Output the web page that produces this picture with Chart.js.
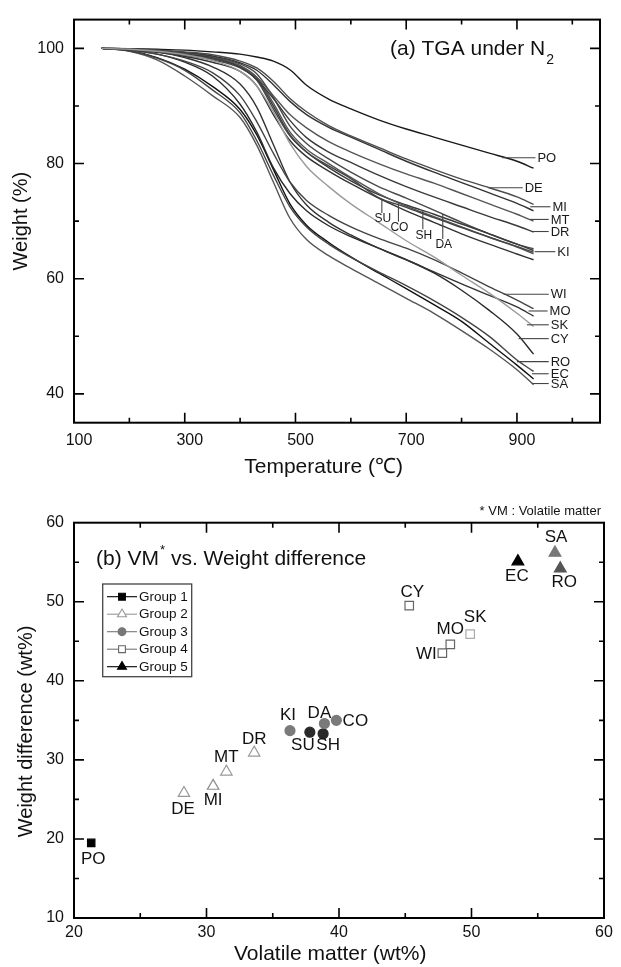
<!DOCTYPE html>
<html>
<head>
<meta charset="utf-8">
<script src="https://cdn.jsdelivr.net/npm/chart.js@4.4.0/dist/chart.umd.min.js"></script>
<style>
  html, body { margin: 0; padding: 0; background: #fff; }
  #wrap { position: relative; width: 621px; height: 967px; }
  #tga { position: absolute; left: 0; top: 0; }
  #vm { position: absolute; left: 0; top: 480px; }
</style>
</head>
<body>
<div id="wrap">
  <canvas id="tga" width="621" height="480"></canvas>
  <canvas id="vm" width="621" height="487"></canvas>
</div>
<script>
// ---- (a) TGA curves: weight (%) read at these temperatures ----
const tempC = [150, 200, 250, 300, 350, 400, 430, 460, 490, 520, 560, 600, 650, 700, 750, 800, 850, 900, 930];

const wPO = [100, 99.95, 99.85, 99.7, 99.4, 99.0, 98.5, 97.8, 96.3, 93.6, 91.2, 89.5, 87.6, 86.0, 84.6, 83.2, 81.8, 80.4, 79.2];
const wDE = [100, 99.9, 99.7, 99.4, 98.9, 97.8, 96.6, 94.3, 91.3, 89.0, 86.6, 84.8, 82.8, 80.8, 79.0, 77.3, 75.8, 74.2, 72.9];
const wMI = [100, 99.9, 99.7, 99.3, 98.7, 97.5, 96.2, 93.7, 90.8, 88.5, 86.3, 84.6, 82.5, 80.4, 78.5, 76.7, 74.9, 73.1, 71.8];
const wMT = [100, 99.9, 99.6, 99.2, 98.6, 97.0, 95.0, 91.8, 88.5, 86.2, 83.8, 82.0, 80.0, 78.2, 76.6, 74.8, 73.0, 71.2, 70.0];
const wDR = [100, 99.85, 99.5, 99.0, 98.4, 96.8, 94.6, 91.3, 87.5, 84.5, 82.0, 80.2, 78.0, 76.0, 74.2, 72.5, 70.8, 69.2, 68.1];
const wSU = [100, 99.8, 99.4, 98.8, 98.0, 96.6, 94.5, 89.5, 84.8, 82.0, 79.6, 77.4, 74.1, 72.4, 70.6, 68.9, 67.2, 65.6, 64.6];
const wCO = [100, 99.85, 99.5, 99.0, 98.3, 97.0, 95.0, 90.5, 85.5, 82.5, 80.0, 77.6, 74.8, 72.6, 70.8, 69.0, 67.2, 65.5, 64.3];
const wSH = [100, 99.8, 99.5, 98.9, 98.2, 96.8, 94.8, 90.0, 85.0, 82.0, 79.3, 77.0, 74.6, 72.8, 71.2, 69.5, 67.8, 66.0, 64.9];
const wDA = [100, 99.85, 99.6, 99.2, 98.5, 97.3, 95.6, 91.5, 86.5, 83.5, 80.8, 78.5, 76.0, 74.0, 71.9, 69.8, 67.8, 66.0, 65.2];
const wKI = [100, 99.8, 99.3, 98.6, 97.6, 96.0, 93.5, 88.5, 84.0, 81.2, 78.7, 76.5, 74.0, 71.8, 69.8, 67.8, 66.0, 64.3, 63.3];
const wWI = [100, 99.7, 99.0, 97.8, 95.8, 91.8, 87.3, 81.8, 76.8, 73.6, 71.0, 69.0, 67.0, 65.3, 63.3, 61.0, 58.6, 56.3, 54.8];
const wMO = [100, 99.8, 99.4, 98.4, 96.8, 93.8, 89.8, 83.3, 76.8, 72.8, 69.8, 67.6, 65.3, 63.3, 61.2, 59.1, 57.1, 55.1, 53.5];
const wSK = [100, 99.85, 99.5, 98.9, 97.9, 96.0, 93.5, 89.0, 83.5, 79.5, 76.0, 73.0, 69.8, 66.6, 63.8, 60.6, 57.5, 54.0, 51.7];
const wCY = [100, 99.7, 99.0, 97.6, 95.2, 90.3, 85.5, 79.3, 74.8, 71.8, 69.2, 67.3, 65.3, 63.3, 61.0, 58.0, 54.5, 50.4, 46.9];
const wRO = [100, 99.6, 98.3, 96.2, 92.8, 88.8, 84.0, 78.0, 72.5, 69.0, 66.0, 63.7, 61.2, 58.8, 56.2, 53.3, 50.0, 45.9, 43.9];
const wEC = [100, 99.6, 98.4, 96.4, 93.4, 89.4, 85.0, 79.0, 73.0, 69.3, 66.3, 63.8, 61.0, 58.3, 55.5, 52.6, 48.8, 45.0, 42.6];
const wSA = [100, 99.5, 98.0, 95.2, 91.8, 88.0, 83.2, 76.8, 70.5, 66.8, 64.0, 61.8, 59.2, 56.6, 54.0, 51.0, 47.8, 44.2, 41.6];

const tgaXTicks = [100, 200, 300, 400, 500, 600, 700, 800, 900, 1000];
const tgaXLabels = [100, 300, 500, 700, 900];
const tgaYTicks = [40, 50, 60, 70, 80, 90, 100];
const tgaYLabels = [40, 60, 80, 100];

// ---- (b) volatile matter vs weight difference ----
const g1Names = ['PO'];
const g1VM = [21.3];
const g1WD = [19.5];
const g2Names = ['DE', 'MI', 'MT', 'DR'];
const g2VM = [28.3, 30.5, 31.5, 33.6];
const g2WD = [25.8, 26.7, 28.5, 30.9];
const g3Names = ['KI', 'SU', 'SH', 'DA', 'CO'];
const g3VM = [36.3, 37.8, 38.8, 38.9, 39.8];
const g3WD = [33.7, 33.5, 33.3, 34.6, 35.0];
const g4Names = ['CY', 'WI', 'MO', 'SK'];
const g4VM = [45.3, 47.8, 48.4, 49.9];
const g4WD = [49.5, 43.5, 44.6, 45.9];
const g5Names = ['EC', 'SA', 'RO'];
const g5VM = [53.5, 56.3, 56.7];
const g5WD = [55.1, 56.2, 54.2];

const vmXTicks = [20, 25, 30, 35, 40, 45, 50, 55, 60];
const vmXLabels = [20, 30, 40, 50, 60];
const vmYTicks = [10, 15, 20, 25, 30, 35, 40, 45, 50, 55, 60];
const vmYLabels = [10, 20, 30, 40, 50, 60];

// ---- look ----
const FONT = '"Liberation Sans", Arial, Helvetica, sans-serif';
Chart.defaults.font.family = FONT;
Chart.defaults.color = '#111';

const curveList = [
  ['SK', wSK, '#9a9a9a'], ['DE', wDE, '#4d4d4d'], ['MI', wMI, '#333'], ['MT', wMT, '#555'],
  ['DR', wDR, '#3a3a3a'], ['SU', wSU, '#444'], ['CO', wCO, '#555'], ['SH', wSH, '#3a3a3a'],
  ['DA', wDA, '#4a4a4a'], ['KI', wKI, '#333'], ['WI', wWI, '#444'], ['MO', wMO, '#333'],
  ['CY', wCY, '#2a2a2a'], ['RO', wRO, '#444'], ['SA', wSA, '#555'], ['EC', wEC, '#111'],
  ['PO', wPO, '#1a1a1a']
];

// label callouts on the TGA plot: [name, attach temp, label weight, text temp]
const sideTags = [
  ['PO', 873, 81.0, 937], ['DE', 849, 75.8, 914], ['MI', 924, 72.5, 964],
  ['MT', 924, 70.3, 961], ['DR', 929, 68.2, 961], ['KI', 932, 64.7, 973],
  ['WI', 876, 57.3, 961], ['MO', 921, 54.4, 959], ['SK', 918, 52.0, 961],
  ['CY', 903, 49.6, 961], ['RO', 900, 45.6, 961], ['EC', 927, 43.5, 961],
  ['SA', 927, 41.8, 961]
];
// [name, temp, leader top, leader bottom, text centre]
const dropTags = [
  ['SU', 656, 73.7, 71.4, 70.4], ['CO', 686, 73.1, 69.9, 68.9],
  ['SH', 730, 71.8, 68.6, 67.4], ['DA', 766, 71.2, 66.9, 65.9]
];

// point label offsets (px) on plot (b)
const tagOffset = {
  PO: [2, 16], DE: [-1, 16], MI: [0, 14], MT: [0, -14], DR: [0, -13],
  KI: [-2, -15], SU: [-7, 13], SH: [5, 12], DA: [-5, -10], CO: [19, 1],
  CY: [3, -13], WI: [-16, 1], MO: [0, -15], SK: [5, -17],
  EC: [-1, 15], SA: [1, -15], RO: [4, 14]
};

// inward ticks on all four sides + box
const frame = {
  id: 'frame',
  afterDraw(chart) {
    const { ctx, chartArea: a, scales } = chart;
    ctx.save();
    ctx.strokeStyle = '#000';
    ctx.lineWidth = 1.6;
    ['x', 'y'].forEach(id => {
      const s = scales[id];
      s.ticks.forEach(tk => {
        if (tk.value <= s.min || tk.value >= s.max) return;
        const len = tk.label ? 10 : 5;
        const p = s.getPixelForValue(tk.value);
        ctx.beginPath();
        if (id === 'x') {
          ctx.moveTo(p, a.bottom); ctx.lineTo(p, a.bottom - len);
          ctx.moveTo(p, a.top); ctx.lineTo(p, a.top + len);
        } else {
          ctx.moveTo(a.left, p); ctx.lineTo(a.left + len, p);
          ctx.moveTo(a.right, p); ctx.lineTo(a.right - len, p);
        }
        ctx.stroke();
      });
    });
    ctx.lineWidth = 2;
    ctx.strokeRect(a.left, a.top, a.right - a.left, a.bottom - a.top);
    ctx.restore();
  }
};

const tgaDecor = {
  id: 'tgaDecor',
  afterDatasetsDraw(chart) {
    const { ctx, scales: { x, y } } = chart;
    ctx.save();
    ctx.strokeStyle = '#444';
    ctx.lineWidth = 1.1;
    ctx.fillStyle = '#1a1a1a';
    ctx.font = `13px ${FONT}`;
    ctx.textAlign = 'left';
    ctx.textBaseline = 'middle';
    sideTags.forEach(([n, t, w, tx]) => {
      const py = y.getPixelForValue(w);
      const x0 = x.getPixelForValue(t), x1 = x.getPixelForValue(tx);
      ctx.beginPath(); ctx.moveTo(x0, py); ctx.lineTo(x1 - 2, py); ctx.stroke();
      ctx.fillText(n, x1, py + 0.5);
    });
    ctx.font = `12px ${FONT}`;
    ctx.textAlign = 'center';
    dropTags.forEach(([n, t, w0, w1, wt]) => {
      const px = x.getPixelForValue(t);
      ctx.beginPath(); ctx.moveTo(px, y.getPixelForValue(w0)); ctx.lineTo(px, y.getPixelForValue(w1)); ctx.stroke();
      ctx.fillText(n, px + 1, y.getPixelForValue(wt));
    });
    // panel title
    ctx.textAlign = 'left';
    ctx.textBaseline = 'alphabetic';
    ctx.fillStyle = '#111';
    ctx.font = `21px ${FONT}`;
    const head = '(a) TGA under N';
    ctx.fillText(head, 390, 55);
    const w = ctx.measureText(head).width;
    ctx.font = `14px ${FONT}`;
    ctx.fillText('2', 390 + w + 1, 64);
    ctx.restore();
  }
};

new Chart(document.getElementById('tga'), {
  type: 'line',
  data: {
    datasets: curveList.map(([name, w, col]) => ({
      label: name,
      data: tempC.map((t, i) => ({ x: t, y: w[i] })),
      borderColor: col,
      borderWidth: 1.4,
      pointRadius: 0,
      fill: false,
      cubicInterpolationMode: 'monotone'
    }))
  },
  options: {
    responsive: false,
    animation: false,
    layout: { padding: { left: 0, right: 21, top: 10, bottom: 0 } },
    plugins: { legend: { display: false }, tooltip: { enabled: false } },
    scales: {
      x: {
        type: 'linear', min: 100, max: 1050,
        afterBuildTicks: s => { s.ticks = tgaXTicks.map(v => ({ value: v })); },
        afterFit: s => { s.height = 57.3; },
        grid: { display: false, drawTicks: false },
        border: { display: false },
        ticks: {
          autoSkip: false, maxRotation: 0, padding: 8, labelOffset: 5,
          font: { size: 16 }, color: '#111',
          callback: v => tgaXLabels.includes(v) ? String(v) : ''
        },
        title: { display: true, text: 'Temperature (\u2103)\u2002\u2002 ', font: { size: 21 }, color: '#111', padding: { top: 4.4, bottom: 0 } }
      },
      y: {
        type: 'linear', min: 35, max: 105,
        afterBuildTicks: s => { s.ticks = tgaYTicks.map(v => ({ value: v })); },
        afterFit: s => { s.width = 74; },
        grid: { display: false, drawTicks: false },
        border: { display: false },
        ticks: {
          autoSkip: false, padding: 10, font: { size: 16 }, color: '#111',
          callback: v => tgaYLabels.includes(v) ? String(v) : ''
        },
        title: { display: true, text: 'Weight (%)', font: { size: 20 }, color: '#111', padding: { top: 9.4, bottom: 0 } }
      }
    }
  },
  plugins: [frame, tgaDecor]
});

// ---- plot (b) ----
function marker(ctx, style, x, y, r, fill, stroke) {
  ctx.beginPath();
  if (style === 'rect') {
    const s = r * Math.SQRT1_2;
    ctx.rect(x - s, y - s, 2 * s, 2 * s);
  } else if (style === 'triangle') {
    ctx.moveTo(x, y - r);
    ctx.lineTo(x + r * 0.866, y + r * 0.5);
    ctx.lineTo(x - r * 0.866, y + r * 0.5);
    ctx.closePath();
  } else {
    ctx.arc(x, y, r, 0, Math.PI * 2);
  }
  ctx.fillStyle = fill; ctx.fill();
  ctx.strokeStyle = stroke; ctx.stroke();
}

const groups = [
  { label: 'Group 1', names: g1Names, vm: g1VM, wd: g1WD, style: 'rect', r: 5.2,
    fill: ['#000'], stroke: ['#000'], key: { line: '#000', fill: '#000', stroke: '#000', r: 4.8 } },
  { label: 'Group 2', names: g2Names, vm: g2VM, wd: g2WD, style: 'triangle', r: 6.6,
    fill: ['#fff', '#fff', '#fff', '#fff'], stroke: ['#999', '#8a8a8a', '#999', '#999'], key: { line: '#999', fill: '#fff', stroke: '#999', r: 5.2 } },
  { label: 'Group 3', names: g3Names, vm: g3VM, wd: g3WD, style: 'circle', r: 5,
    fill: ['#7a7a7a', '#2a2a2a', '#2a2a2a', '#7a7a7a', '#7a7a7a'], stroke: ['#7a7a7a', '#2a2a2a', '#2a2a2a', '#7a7a7a', '#7a7a7a'],
    key: { line: '#777', fill: '#777', stroke: '#777', r: 3.9 } },
  { label: 'Group 4', names: g4Names, vm: g4VM, wd: g4WD, style: 'rect', r: 6,
    fill: ['#fff', '#fff', '#fff', '#fff'], stroke: ['#666', '#666', '#666', '#aaa'], key: { line: '#777', fill: '#fff', stroke: '#666', r: 4.8 } },
  { label: 'Group 5', names: g5Names, vm: g5VM, wd: g5WD, style: 'triangle', r: 6.8,
    fill: ['#000', '#777', '#555'], stroke: ['#000', '#777', '#555'], key: { line: '#000', fill: '#000', stroke: '#000', r: 5.2 } }
];

const vmDecor = {
  id: 'vmDecor',
  afterDatasetsDraw(chart) {
    const ctx = chart.ctx;
    ctx.save();
    // point labels
    ctx.font = `17px ${FONT}`;
    ctx.fillStyle = '#111';
    ctx.textAlign = 'center';
    ctx.textBaseline = 'middle';
    chart.data.datasets.forEach((ds, i) => {
      chart.getDatasetMeta(i).data.forEach((pt, j) => {
        const n = ds.names[j];
        const [dx, dy] = tagOffset[n] || [0, 0];
        ctx.fillText(n, pt.x + dx, pt.y + dy);
      });
    });
    // legend box
    const bx = 102.7, by = 104, bw = 89, bh = 92.7;
    ctx.lineWidth = 1.3;
    ctx.strokeStyle = '#444';
    ctx.strokeRect(bx, by, bw, bh);
    ctx.font = `13.5px ${FONT}`;
    ctx.textAlign = 'left';
    chart.data.datasets.forEach((ds, i) => {
      const yy = 116.7 + i * 17.5;
      ctx.lineWidth = 1.1;
      ctx.strokeStyle = ds.key.line;
      ctx.beginPath(); ctx.moveTo(107, yy); ctx.lineTo(137, yy); ctx.stroke();
      marker(ctx, ds.pointStyle, 122, yy, ds.key.r, ds.key.fill, ds.key.stroke);
      ctx.fillStyle = '#111';
      ctx.fillText(ds.label, 139, yy + 0.5);
    });
    // title and note
    ctx.textBaseline = 'alphabetic';
    ctx.fillStyle = '#111';
    ctx.font = `21px ${FONT}`;
    const t1 = '(b) VM';
    ctx.fillText(t1, 96, 85);
    let xx = 96 + ctx.measureText(t1).width + 1;
    ctx.font = `13px ${FONT}`;
    ctx.fillText('*', xx, 74);
    xx += ctx.measureText('*').width;
    ctx.font = `21px ${FONT}`;
    ctx.fillText(' vs. Weight difference', xx, 85);
    ctx.font = `13px ${FONT}`;
    ctx.textAlign = 'right';
    ctx.textBaseline = 'middle';
    ctx.fillText('* VM : Volatile matter', 601, 31);
    ctx.restore();
  }
};

new Chart(document.getElementById('vm'), {
  type: 'scatter',
  data: {
    datasets: groups.map(g => ({
      label: g.label,
      names: g.names,
      key: g.key,
      data: g.vm.map((v, i) => ({ x: v, y: g.wd[i] })),
      pointStyle: g.style,
      pointRadius: g.r,
      pointBackgroundColor: g.fill,
      pointBorderColor: g.stroke,
      pointBorderWidth: 1.2,
      showLine: false
    }))
  },
  options: {
    responsive: false,
    animation: false,
    layout: { padding: { left: 0, right: 17, top: 42.7, bottom: 0 } },
    plugins: { legend: { display: false }, tooltip: { enabled: false } },
    scales: {
      x: {
        type: 'linear', min: 20, max: 60,
        afterBuildTicks: s => { s.ticks = vmXTicks.map(v => ({ value: v })); },
        afterFit: s => { s.height = 49; },
        grid: { display: false, drawTicks: false },
        border: { display: false },
        ticks: {
          autoSkip: false, maxRotation: 0, padding: 5.4, font: { size: 16 }, color: '#111',
          callback: v => vmXLabels.includes(v) ? String(v) : ''
        },
        title: { display: true, text: 'Volatile matter (wt%)   ', font: { size: 21 }, color: '#111', padding: { top: 0, bottom: 0 } }
      },
      y: {
        type: 'linear', min: 10, max: 60,
        afterBuildTicks: s => { s.ticks = vmYTicks.map(v => ({ value: v })); },
        afterFit: s => { s.width = 74; },
        grid: { display: false, drawTicks: false },
        border: { display: false },
        ticks: {
          autoSkip: false, padding: 10, font: { size: 16 }, color: '#111',
          callback: v => vmYLabels.includes(v) ? String(v) : ''
        },
        title: { display: true, text: 'Weight difference (wt%)    ', font: { size: 20 }, color: '#111', padding: { top: 14, bottom: 0 } }
      }
    }
  },
  plugins: [frame, vmDecor]
});
</script>
</body>
</html>
